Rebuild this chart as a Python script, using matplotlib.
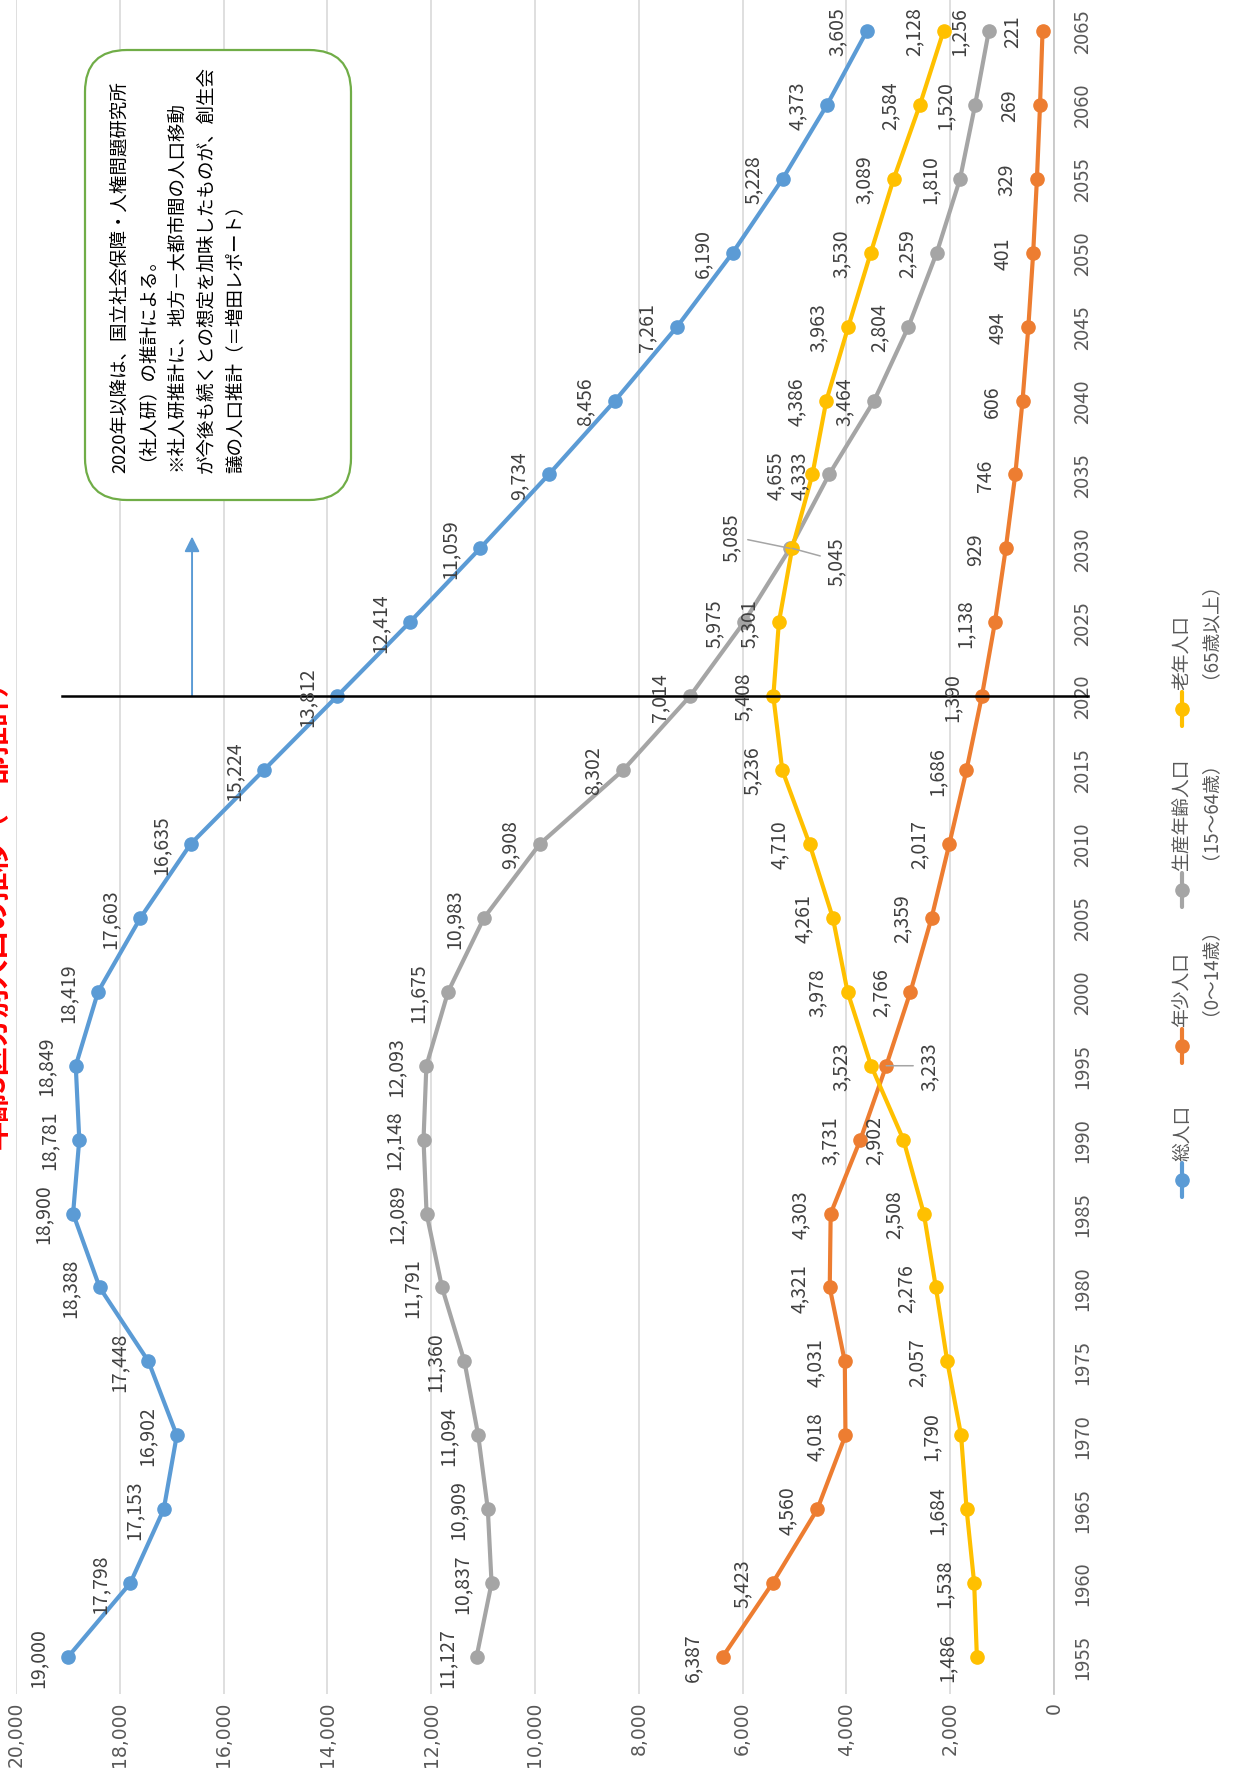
import matplotlib
matplotlib.use("Agg")
import matplotlib.pyplot as plt
from matplotlib.patches import FancyBboxPatch
from matplotlib.lines import Line2D
import matplotlib.transforms as mtransforms
from matplotlib.font_manager import FontProperties, findfont, get_font

# ---- data (千人) ----
years = [1955, 1960, 1965, 1970, 1975, 1980, 1985, 1990, 1995, 2000, 2005, 2010,
         2015, 2020, 2025, 2030, 2035, 2040, 2045, 2050, 2055, 2060, 2065]
total = [19000, 17798, 17153, 16902, 17448, 18388, 18900, 18781, 18849, 18419, 17603, 16635,
         15224, 13812, 12414, 11059, 9734, 8456, 7261, 6190, 5228, 4373, 3605]
young = [6387, 5423, 4560, 4018, 4031, 4321, 4303, 3731, 3233, 2766, 2359, 2017,
         1686, 1390, 1138, 929, 746, 606, 494, 401, 329, 269, 221]
working = [11127, 10837, 10909, 11094, 11360, 11791, 12089, 12148, 12093, 11675, 10983, 9908,
           8302, 7014, 5975, 5085, 4333, 3464, 2804, 2259, 1810, 1520, 1256]
elderly = [1486, 1538, 1684, 1790, 2057, 2276, 2508, 2902, 3523, 3978, 4261, 4710,
           5236, 5408, 5301, 5045, 4655, 4386, 3963, 3530, 3089, 2584, 2128]
value_ticks = list(range(0, 20001, 2000))

series_names = ["総人口", "年少人口", "生産年齢人口", "老年人口"]
series_sub = ["", "（0～14歳）", "（15～64歳）", "（65歳以上）"]
series_vals = [total, young, working, elderly]
colors = ["#5B9BD5", "#ED7D31", "#A5A5A5", "#FFC000"]

title = "年齢3区分別人口の推移（一部推計）"
note_lines = ["2020年以降は、国立社会保障・人権問題研究所",
              "（社人研）の推計による。",
              "※社人研推計に、地方－大都市間の人口移動",
              "が今後も続くとの想定を加味したものが、創生会",
              "議の人口推計（＝増田レポート）"]

NARROW = ["Liberation Sans Narrow", "Noto Sans CJK JP", "DejaVu Sans"]
JP = ["Noto Sans CJK JP", "DejaVu Sans"]
plt.rcParams["font.family"] = JP

W, H, DPI = 1233, 1781, 100
fig = plt.figure(figsize=(W / DPI, H / DPI), dpi=DPI)
inch = fig.dpi_scale_trans


def P(x, y):
    """pixel position (from top-left) -> inches for dpi_scale_trans"""
    return x / DPI, (H - y) / DPI


def lead_bearing(s, size):
    """left bearing (px) of the first glyph; Agg applies it unrotated,
    so sideways text is shifted by it and needs compensating"""
    try:
        f = get_font(findfont(FontProperties(family=JP)))
        f.clear()
        f.set_size(size, DPI)
        f.set_text(s, 0.0)
        return f.get_bitmap_offset()[0] / 64.0
    except Exception:
        return 0.0


def side_text(cx, y_start, s, size, color, **kw):
    """text running bottom-to-top, glyphs centred on column cx, starting at y_start"""
    em = size * DPI / 72.0
    b = lead_bearing(s, size)
    pos = P(cx + 0.38 * em - b, y_start - b)
    return fig.text(pos[0], pos[1], s, transform=inch, rotation=90,
                    rotation_mode="anchor", ha="left", va="baseline",
                    fontsize=size, color=color, family=JP, **kw)


# the chart is laid out sideways: values run right-to-left, years bottom-to-top
ax = fig.add_axes([16 / W, (H - 1695) / H, 1038 / W, 1700 / H])
ax.set_xlim(20000, 0)
ax.set_ylim(1952.5, 2067.5)

ax.set_xticks(value_ticks)
ax.set_xticklabels([f"{v:,}" for v in value_ticks], rotation=90,
                   fontsize=13.5, color="#595959", family=["DejaVu Sans"])
ax.tick_params(axis="x", length=0, pad=5)
ax.grid(axis="x", color="#D9D9D9", lw=1.2)
ax.set_axisbelow(True)

ax.yaxis.tick_right()
ax.set_yticks(years)
ax.set_yticklabels([str(y) for y in years], family=NARROW, fontsize=14.5, color="#595959")
ax.tick_params(axis="y", length=0, pad=13, labelrotation=90)
for lab in ax.get_yticklabels():
    lab.set_va("center")
    lab.set_ha("left")

for s in ["top", "left", "bottom"]:
    ax.spines[s].set_visible(False)
ax.spines["right"].set_color("#C8C8C8")
ax.spines["right"].set_linewidth(1.3)

for vals, c in zip(series_vals, colors):
    ax.plot(vals, years, color=c, lw=3.0, marker="o", ms=9.5, zorder=3,
            solid_capstyle="round")

# data labels
STD = (-21.5, 0)
special = {
    (2, 2030): dict(off=(-42, 8.6), leader=True),
    (3, 2030): dict(off=(31.7, -8.6), leader=True),
    (3, 2035): dict(off=(-26.6, 0), leader=False),
    (1, 1995): dict(off=(31, 0), leader=True),
}
for si, vals in enumerate(series_vals):
    for yr, v in zip(years, vals):
        spec = special.get((si, yr), dict(off=STD, leader=False))
        kw = {}
        if spec["leader"]:
            kw["arrowprops"] = dict(arrowstyle="-", color="#A5A5A5", lw=1.1,
                                    shrinkA=2, shrinkB=0)
        ax.annotate(f"{v:,}", (v, yr), xytext=spec["off"], textcoords="offset points",
                    rotation=90, ha="center", va="center", fontsize=14,
                    family=NARROW, color="#404040", zorder=5, **kw)

# 2020 divider and arrow pointing to the projection period
blend = mtransforms.blended_transform_factory(ax.transAxes, ax.transData)
ax.plot([0.0443, 1.033], [2020, 2020], color="black", lw=1.8, transform=blend,
        clip_on=False, zorder=4)
ax.annotate("", xy=(0.1696, 2030.8), xytext=(0.1696, 2020), xycoords=blend,
            textcoords=blend,
            arrowprops=dict(arrowstyle="-|>,head_length=0.9,head_width=0.45",
                            color="#5B9BD5", lw=1.4, shrinkA=0, shrinkB=0))

# note box
x0, y0 = P(85, 501)
x1, y1 = P(351, 51)
box = FancyBboxPatch((x0, y0), x1 - x0, y1 - y0,
                     boxstyle="round,pad=0,rounding_size=0.42",
                     transform=inch, facecolor="white", edgecolor="#70AD47",
                     lw=1.6, zorder=6)
fig.add_artist(box)
for i, line in enumerate(note_lines):
    t = side_text(119 + 29 * i, 474, line, 13.3, "black")
    t.set_zorder(7)

# legend (drawn sideways along the right edge)
leg_y = [1181, 1047, 891, 710]
for name, sub, c, ly in zip(series_names, series_sub, colors, leg_y):
    lx = 1182
    a = P(lx, ly - 17)
    b = P(lx, ly + 17)
    fig.add_artist(Line2D([a[0], b[0]], [a[1], b[1]], color=c, lw=3.0,
                          transform=inch, solid_capstyle="round"))
    m = P(lx, ly)
    fig.add_artist(Line2D([m[0]], [m[1]], color=c, marker="o", ms=9.5,
                          transform=inch))
    side_text(lx, ly - 19, name, 13.5, "#595959")
    if sub:
        side_text(lx + 29, ly - 19, sub, 13.5, "#595959")

# chart title along the left edge
side_text(-5, 1150, title, 21, "#FF0000", fontweight="bold")

fig.savefig("out.png", dpi=DPI, facecolor="white")
